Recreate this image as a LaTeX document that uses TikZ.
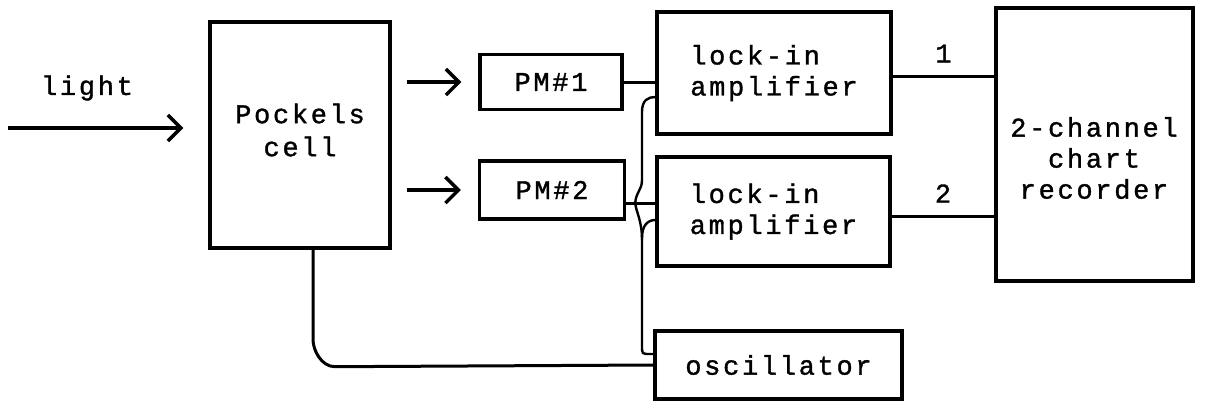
\documentclass[tikz,border=0pt]{standalone}
\usepackage{fontspec}
\usetikzlibrary{arrows.meta,calc}
\newfontfamily\typewriter[LetterSpace=10,FakeBold=1.2]{Liberation Mono}

\tikzset{
  box/.style={draw, line width=3.4pt, inner sep=0pt,
    font=\typewriter\fontsize{27}{31}\selectfont, align=center},
  lbl/.style={inner sep=0pt, font=\typewriter\fontsize{27}{31}\selectfont},
  wire/.style={line width=3pt, line join=round},
  refwire/.style={line width=2.4pt, line join=round},
  beam/.style={line width=3.4pt, -{Straight Barb[length=13pt,width=26pt]}},
}

\begin{document}
\begin{tikzpicture}[x=1pt,y=-1pt]
\useasboundingbox (0,0) rectangle (1210,408);

% blocks
\node[box, minimum width=180pt, minimum height=226pt] (pc) at (300,135) {};
\node[lbl, align=center] (pctext) at (300,130) {Pockels\\[2pt]cell};
\node[box, minimum width=142pt, minimum height=55pt] (pm1) at (551,82) {PM\#1};
\node[box, minimum width=145pt, minimum height=58pt] (pm2) at (552,190) {PM\#2};
\node[box, align=left, minimum width=234pt, minimum height=122pt] (lock1) at (774,73) {lock-in\\amplifier};
\node[box, align=left, minimum width=233pt, minimum height=109pt] (lock2) at (773.5,211.5) {lock-in\\amplifier};
\node[box, minimum width=197pt, minimum height=273pt] (rec) at (1094.5,144.5) {};
\node[lbl, align=center] (rectext) at (1094,158) {2-channel\\chart\\recorder};
\node[box, minimum width=247pt, minimum height=68pt] (osc) at (778.5,365) {oscillator};

% incoming light
\coordinate (src) at (8,128);
\node[lbl] (lighttext) at (87,88) {light};
\draw[beam, shorten >=25pt] (src) -- (pc.west |- src);

% the two output beams
\draw[beam, shorten <=15pt, shorten >=17pt] (pc.east |- pm1.west) -- (pm1.west);
\draw[beam, shorten <=15pt, shorten >=17pt] (pc.east |- pm2.west) -- (pm2.west);

% photomultiplier signals
\draw[wire] (pm1.east) -- (lock1.west |- pm1.east);
\draw[wire] ($(pm2.east)+(0,13)$) coordinate (p2o) -- (lock2.west |- p2o);

% outputs to the recorder
\draw[wire] ($(lock1.east)+(0,3)$) coordinate (l1o) -- (rec.west |- l1o)
  node[lbl, midway, above=12pt] (ch1) {1};
\draw[wire] ($(lock2.east)+(0,4.5)$) coordinate (l2o) -- (rec.west |- l2o)
  node[lbl, midway, above=12pt] (ch2) {2};

% drive for the Pockels cell
\draw[wire] ($(pc.south)+(13,0)$) -- ++(0,90) .. controls ++(0,10) and ++(-14,0) .. ++(22,27) -- (osc.west);

% reference from the oscillator to both lock-ins
\coordinate (tap) at ($(pm2.east)+(9,13)$);
\draw[refwire] ($(osc.west)+(0,-11)$) -- (650,354) .. controls (642,354) .. (642,346)
  -- (642,238) .. controls (642,225) and (648,220) .. ($(lock2.west)+(0,8.5)$);
\draw[refwire] (642,240) .. controls (642,220) and (636,212) .. (tap);
\draw[refwire] (tap) .. controls (636,192) and (642,190) .. (642,180)
  -- (642,112) .. controls (642,100) and (648,97) .. ($(lock1.west)+(0,24)$);
\end{tikzpicture}
\end{document}
